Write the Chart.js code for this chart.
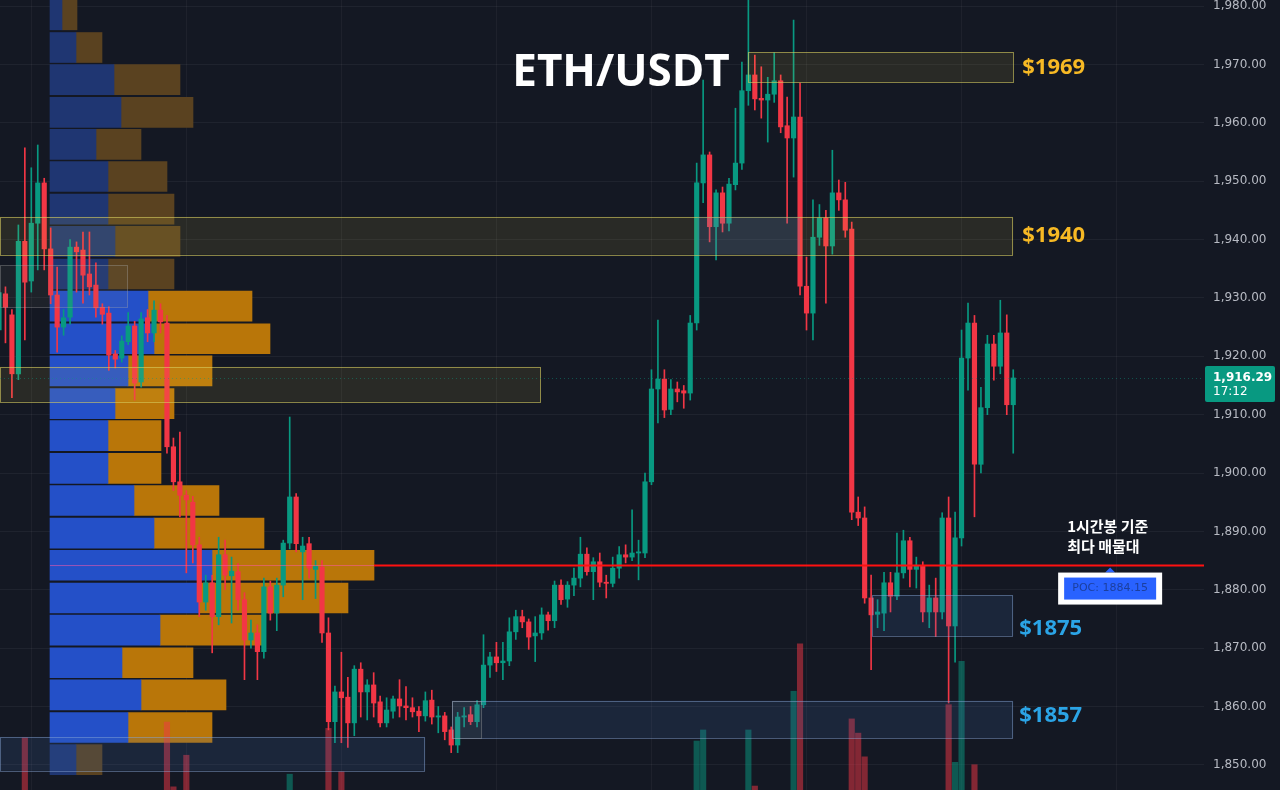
<!DOCTYPE html>
<html>
<head>
<meta charset="utf-8">
<title>ETH/USDT</title>
<script src="https://cdn.jsdelivr.net/npm/chart.js@4.4.0/dist/chart.umd.min.js"></script>
<style>
  html, body { margin: 0; padding: 0; background: #131722; }
  #wrap { width: 1280px; height: 790px; }
</style>
</head>
<body>
<div id="wrap"><canvas id="chart" width="1280" height="790"></canvas></div>
<script>
// 1h candles, index 0 = leftmost bar on screen
const opens = [
  1924.5, 1930.7, 1927.1, 1917.0, 1939.7, 1932.9, 1942.8, 1949.7, 1938.4, 1930.5,
  1925.0, 1926.7, 1938.7, 1938.2, 1934.1, 1932.2, 1928.4, 1927.4, 1920.4, 1919.7,
  1922.5, 1925.2, 1915.6, 1926.6, 1924.0, 1927.9, 1925.7, 1904.5, 1898.5, 1896.2,
  1895.0, 1887.7, 1877.9, 1881.2, 1875.4, 1886.0, 1882.4, 1883.1, 1878.3, 1871.4,
  1872.6, 1869.4, 1880.5, 1876.0, 1880.8, 1888.0, 1895.9, 1886.5, 1887.9, 1883.5,
  1883.9, 1872.6, 1857.4, 1862.5, 1861.6, 1857.2, 1866.4, 1862.5, 1863.7, 1860.8,
  1857.2, 1859.2, 1861.3, 1860.1, 1859.8, 1859.2, 1858.4, 1861.1, 1858.2, 1858.4,
  1856.0, 1853.4, 1858.2, 1858.6, 1857.4, 1860.3, 1867.1, 1868.5, 1867.5, 1867.8,
  1872.8, 1875.4, 1874.5, 1872.1, 1872.6, 1875.7, 1874.7, 1880.8, 1878.4, 1880.8,
  1882.0, 1886.1, 1883.1, 1884.8, 1881.3, 1881.1, 1883.7, 1886.0, 1885.6, 1886.3,
  1886.3, 1898.5, 1914.4, 1916.1, 1910.9, 1914.4, 1914.1, 1913.7, 1925.7, 1949.7,
  1954.5, 1942.2, 1948.0, 1942.8, 1949.4, 1953.1, 1965.5, 1968.2, 1964.2, 1963.9,
  1964.9, 1967.2, 1959.5, 1957.4, 1961.0, 1932.0, 1927.4, 1940.4, 1943.7, 1938.9,
  1948.0, 1946.8, 1941.8, 1893.3, 1892.3, 1878.6, 1875.8, 1876.0, 1881.2, 1878.9,
  1882.9, 1888.4, 1883.5, 1884.2, 1876.2, 1878.6, 1876.2, 1892.3, 1873.8, 1888.9,
  1919.7, 1925.7, 1901.5, 1911.2, 1922.1, 1918.3, 1924.0, 1911.7
];
const highs = [
  1931.5, 1931.9, 1928.0, 1942.5, 1955.7, 1952.3, 1956.2, 1950.5, 1942.0, 1935.3,
  1928.0, 1940.0, 1939.6, 1941.3, 1941.3, 1936.0, 1929.0, 1928.5, 1921.0, 1923.5,
  1927.5, 1926.0, 1927.5, 1928.0, 1929.5, 1929.0, 1927.0, 1906.0, 1907.0, 1897.0,
  1896.0, 1889.0, 1882.5, 1882.5, 1889.0, 1888.5, 1885.6, 1884.5, 1879.5, 1874.8,
  1874.0, 1882.0, 1881.5, 1882.0, 1888.5, 1909.6, 1896.5, 1889.0, 1889.0, 1885.0,
  1885.0, 1875.2, 1863.5, 1869.3, 1865.0, 1867.0, 1867.5, 1864.6, 1865.8, 1861.8,
  1861.5, 1861.8, 1864.6, 1863.4, 1861.5, 1860.0, 1862.5, 1862.8, 1860.0, 1859.0,
  1856.5, 1859.0, 1859.8, 1860.0, 1861.0, 1872.3, 1869.3, 1871.0, 1871.0, 1875.2,
  1876.5, 1876.5, 1875.0, 1875.4, 1876.9, 1876.2, 1881.5, 1881.7, 1881.4, 1883.7,
  1889.0, 1887.2, 1885.5, 1886.3, 1882.5, 1885.6, 1887.4, 1887.7, 1893.7, 1888.5,
  1900.0, 1917.7, 1926.2, 1917.7, 1916.0, 1915.6, 1915.0, 1927.0, 1953.1, 1967.3,
  1955.0, 1948.5, 1949.0, 1950.5, 1962.5, 1970.4, 1981.0, 1971.6, 1969.6, 1967.8,
  1972.0, 1968.2, 1964.4, 1977.6, 1966.8, 1937.0, 1946.8, 1946.0, 1945.0, 1955.3,
  1950.2, 1949.8, 1943.0, 1895.9, 1894.2, 1882.5, 1878.3, 1883.0, 1883.0, 1889.7,
  1890.2, 1889.0, 1885.6, 1884.8, 1880.8, 1882.0, 1893.2, 1895.9, 1893.3, 1924.5,
  1929.1, 1927.0, 1914.7, 1923.6, 1923.6, 1929.6, 1927.1, 1917.7
];
const lows = [
  1923.5, 1922.3, 1912.9, 1916.0, 1922.8, 1931.0, 1934.8, 1934.8, 1929.0, 1920.7,
  1923.6, 1925.5, 1931.0, 1929.1, 1930.5, 1926.7, 1925.5, 1917.6, 1918.0, 1919.0,
  1922.0, 1912.5, 1914.7, 1922.5, 1922.5, 1924.0, 1903.4, 1897.0, 1892.5, 1882.9,
  1884.6, 1875.4, 1876.5, 1869.2, 1874.0, 1880.0, 1874.3, 1876.5, 1864.6, 1870.0,
  1864.6, 1868.3, 1874.8, 1873.0, 1878.8, 1887.0, 1886.5, 1878.3, 1882.0, 1878.5,
  1871.0, 1856.0, 1853.8, 1853.8, 1853.0, 1855.0, 1858.2, 1857.7, 1858.2, 1856.5,
  1856.5, 1858.0, 1858.2, 1857.7, 1858.2, 1855.7, 1857.5, 1857.0, 1855.5, 1854.3,
  1852.1, 1852.1, 1856.5, 1856.9, 1856.5, 1859.8, 1865.0, 1866.0, 1864.6, 1867.0,
  1871.5, 1873.5, 1869.8, 1867.7, 1871.5, 1873.1, 1873.5, 1877.5, 1877.0, 1879.0,
  1880.5, 1882.5, 1878.3, 1880.5, 1878.6, 1880.5, 1882.0, 1884.6, 1885.0, 1881.7,
  1885.5, 1898.0, 1908.6, 1909.5, 1910.0, 1912.2, 1911.1, 1912.5, 1924.5, 1946.3,
  1939.6, 1936.5, 1941.3, 1941.5, 1948.5, 1952.0, 1963.0, 1962.2, 1960.8, 1956.7,
  1963.5, 1958.3, 1942.8, 1950.7, 1930.5, 1924.5, 1922.8, 1939.0, 1929.1, 1937.5,
  1945.0, 1940.4, 1892.0, 1891.0, 1877.7, 1866.3, 1873.5, 1873.0, 1876.2, 1878.3,
  1882.0, 1880.5, 1880.3, 1874.5, 1873.5, 1872.0, 1875.0, 1860.6, 1867.6, 1887.5,
  1914.2, 1892.5, 1900.0, 1910.0, 1915.9, 1917.0, 1910.0, 1903.4
];
const closes = [
  1930.9, 1928.4, 1917.0, 1939.7, 1932.7, 1942.8, 1949.7, 1938.4, 1930.5, 1925.0,
  1926.6, 1938.7, 1937.9, 1933.9, 1931.9, 1928.3, 1927.2, 1920.2, 1919.5, 1922.6,
  1925.2, 1915.4, 1926.4, 1924.0, 1927.9, 1925.9, 1904.5, 1898.5, 1896.2, 1895.4,
  1887.7, 1877.9, 1881.2, 1875.4, 1886.0, 1882.5, 1883.2, 1878.3, 1871.4, 1872.6,
  1869.4, 1880.5, 1876.0, 1880.8, 1888.0, 1895.9, 1887.9, 1887.5, 1883.7, 1884.0,
  1872.6, 1857.4, 1862.5, 1861.5, 1857.2, 1866.4, 1862.5, 1863.7, 1860.6, 1857.2,
  1859.4, 1861.3, 1860.1, 1859.8, 1859.1, 1858.4, 1861.0, 1858.2, 1858.4, 1855.7,
  1853.4, 1858.2, 1858.4, 1857.4, 1860.3, 1867.1, 1868.5, 1867.5, 1867.8, 1872.8,
  1875.4, 1874.5, 1871.9, 1872.6, 1875.7, 1874.7, 1880.8, 1878.3, 1880.8, 1882.0,
  1886.1, 1883.1, 1884.8, 1881.3, 1881.1, 1883.7, 1886.0, 1885.6, 1886.3, 1886.5,
  1898.5, 1914.4, 1916.1, 1910.8, 1914.4, 1913.9, 1913.7, 1925.7, 1949.7, 1954.5,
  1942.2, 1948.0, 1942.8, 1949.5, 1953.1, 1965.5, 1968.2, 1964.1, 1963.9, 1964.9,
  1967.2, 1959.3, 1957.4, 1961.0, 1932.0, 1927.4, 1940.4, 1943.7, 1938.9, 1948.0,
  1946.8, 1941.6, 1893.3, 1892.3, 1878.6, 1875.7, 1876.2, 1881.2, 1878.9, 1882.9,
  1888.4, 1883.5, 1884.2, 1876.2, 1878.6, 1876.2, 1892.3, 1873.8, 1888.9, 1919.7,
  1925.7, 1901.5, 1911.2, 1922.1, 1918.3, 1924.0, 1911.7, 1916.29
];

// volume bars that poke up into the visible price pane
const volIndex = [4, 26, 27, 29, 45, 51, 53, 108, 109, 116, 117, 123, 124, 132, 133, 134, 147, 148, 149, 151];
const volValue = [6.6, 8.6, 0.4, 4.4, 2.0, 7.8, 2.3, 6.2, 7.6, 7.6, 0.5, 12.5, 18.5, 9.0, 7.2, 4.2, 10.8, 3.5, 16.3, 3.2];

// volume profile rows (price level, buy vol, sell vol)
const profileLevels = [1978.5, 1972.9, 1967.4, 1961.8, 1956.3, 1950.8, 1945.2, 1939.7, 1934.1, 1928.6, 1923.0, 1917.5,
                       1911.9, 1906.4, 1900.8, 1895.3, 1889.7, 1884.2, 1878.6, 1873.1, 1867.5, 1862.0, 1856.4, 1850.9];
const profileUp   = [12, 26, 64, 71, 46, 58, 58, 65, 58, 98, 104, 78, 65, 58, 58, 84, 104, 162, 149, 110, 72, 91, 78, 26];
const profileDown = [15, 26, 66, 72, 45, 59, 66, 65, 66, 104, 116, 84, 59, 53, 53, 85, 110, 162, 149, 102, 71, 85, 84, 26];
const valueAreaFrom = 9, valueAreaTo = 22;
const pocPrice = 1884.15;

// zones drawn over the chart
const zoneTops    = [1943.9, 1943.9, 1918.2, 1935.6, 1972.1, 1879.1, 1861.0, 1861.0, 1854.8];
const zoneBottoms = [1937.4, 1937.4, 1912.2, 1928.4, 1967.0, 1872.1, 1854.6, 1854.6, 1849.0];
const zoneStarts  = [0.15, 108.1, 0.15, 0.15, 115.9, 135.1, 70.1, 70.1, 0.15];
const zoneEnds    = [157, 124, 83.9, 20, 157, 157, 157, 74.8, 66];
const zoneKinds   = ['gold', 'blueFill', 'gold', 'grey', 'gold', 'blue', 'blue', 'grey', 'blue'];

const levelTexts  = ['$1969', '$1940', '$1875', '$1857'];
const levelPrices = [1969.5, 1940.7, 1873.3, 1858.4];
const levelColors = ['#f7b924', '#f7b924', '#2ba4e6', '#2ba4e6'];

const gridIndex = [5, 29, 53, 77, 101, 125, 149, 173];

const UP = '#089981', DOWN = '#f23645';
const isUp = i => closes[i] >= opens[i];

const zoneStyles = {
    gold:     { fill: 'rgba(255, 235, 80, 0.09)', line: 'rgba(215, 205, 95, 0.6)' },
    blue:     { fill: 'rgba(70, 110, 180, 0.16)', line: 'rgba(140, 170, 220, 0.45)' },
    blueFill: { fill: 'rgba(60, 110, 200, 0.18)', line: null },
    grey:     { fill: 'rgba(150, 150, 130, 0.08)', line: 'rgba(170, 170, 170, 0.35)' }
};

const fmt = v => v.toLocaleString('en-US', { minimumFractionDigits: 2, maximumFractionDigits: 2 });

const overlay = {
    id: 'overlay',
    afterDatasetsDraw(chart) {
        const { ctx, chartArea, scales: { x, y, xp } } = chart;
        ctx.save();

        // zones
        zoneTops.forEach((top, i) => {
            const x0 = x.getPixelForValue(zoneStarts[i]);
            const x1 = x.getPixelForValue(zoneEnds[i]);
            const y0 = y.getPixelForValue(top);
            const y1 = y.getPixelForValue(zoneBottoms[i]);
            const st = zoneStyles[zoneKinds[i]];
            ctx.fillStyle = st.fill;
            ctx.fillRect(x0, y0, x1 - x0, y1 - y0);
            if (st.line) {
                ctx.strokeStyle = st.line;
                ctx.lineWidth = 1;
                ctx.strokeRect(Math.round(x0) + 0.5, Math.round(y0) + 0.5, Math.round(x1 - x0) - 1, Math.round(y1 - y0));
            }
        });

        // current price dotted line
        const last = closes.length - 1;
        const pyLast = y.getPixelForValue(closes[last]);
        ctx.setLineDash([1, 3]);
        ctx.strokeStyle = 'rgba(8, 153, 129, 0.45)';
        ctx.beginPath();
        ctx.moveTo(chartArea.left, Math.round(pyLast) + 0.5);
        ctx.lineTo(chartArea.right, Math.round(pyLast) + 0.5);
        ctx.stroke();
        ctx.setLineDash([]);

        // POC line
        const pocRow = profileLevels.indexOf(1884.2);
        const pyPoc = y.getPixelForValue(pocPrice);
        const pocEnd = xp.getPixelForValue(profileUp[pocRow] + profileDown[pocRow]);
        ctx.strokeStyle = 'rgba(255, 90, 170, 0.55)';
        ctx.lineWidth = 1;
        ctx.beginPath();
        ctx.moveTo(xp.getPixelForValue(0), pyPoc);
        ctx.lineTo(pocEnd, pyPoc);
        ctx.stroke();
        ctx.strokeStyle = '#ff1111';
        ctx.lineWidth = 2;
        ctx.beginPath();
        ctx.moveTo(pocEnd, pyPoc);
        ctx.lineTo(chartArea.right, pyPoc);
        ctx.stroke();

        // level labels
        ctx.font = 'bold 22px "Open Sans", "Noto Sans", sans-serif';
        ctx.textBaseline = 'middle';
        ctx.textAlign = 'left';
        levelTexts.forEach((t, i) => {
            ctx.fillStyle = levelColors[i];
            const dx = i < 2 ? 9 : 6;
            ctx.fillText(t, x.getPixelForValue(157) + dx, y.getPixelForValue(levelPrices[i]));
        });

        // title
        ctx.fillStyle = '#ffffff';
        ctx.font = 'bold 44px "Open Sans", "Noto Sans", sans-serif';
        ctx.textAlign = 'center';
        ctx.textBaseline = 'alphabetic';
        ctx.fillText('ETH/USDT', 621, 86);

        // POC callout
        const cx = x.getPixelForValue(172);
        ctx.font = 'bold 15px "Noto Sans CJK KR", sans-serif';
        ctx.textAlign = 'left';
        ctx.textBaseline = 'middle';
        ctx.fillStyle = '#ffffff';
        ctx.fillText('1시간봉 기준', cx - 43, pyPoc - 39);
        ctx.fillText('최다 매물대', cx - 43, pyPoc - 19);

        ctx.fillStyle = '#2962ff';
        ctx.beginPath();
        ctx.moveTo(cx - 5, pyPoc + 7);
        ctx.lineTo(cx, pyPoc + 2);
        ctx.lineTo(cx + 5, pyPoc + 7);
        ctx.fill();
        ctx.fillStyle = '#ffffff';
        ctx.fillRect(cx - 52, pyPoc + 7, 104, 32);
        ctx.fillStyle = '#2962ff';
        ctx.fillRect(cx - 46, pyPoc + 12, 92, 22);
        ctx.fillStyle = '#1c3f9e';
        ctx.font = '11px "DejaVu Sans", sans-serif';
        ctx.textAlign = 'center';
        ctx.fillText('POC: ' + pocPrice.toFixed(2), cx, pyPoc + 23);

        // last price tag on the axis
        ctx.fillStyle = UP;
        ctx.beginPath();
        ctx.roundRect(chartArea.right + 1, pyLast - 12, 70, 36, 2);
        ctx.fill();
        ctx.fillStyle = '#ffffff';
        ctx.textAlign = 'left';
        ctx.font = 'bold 12px "DejaVu Sans", sans-serif';
        ctx.fillText(fmt(closes[last]), chartArea.right + 9, pyLast);
        ctx.font = '12px "DejaVu Sans", sans-serif';
        ctx.fillText('17:12', chartArea.right + 9, pyLast + 14);

        ctx.restore();
    }
};

const candleIdx = opens.map((_, i) => i);

new Chart(document.getElementById('chart'), {
    type: 'bar',
    data: {
        datasets: [
            {
                label: 'body',
                data: candleIdx.map(i => ({ x: i, y: [opens[i], closes[i]] })),
                backgroundColor: ctx => isUp(ctx.dataIndex) ? UP : DOWN,
                barThickness: 4.5,
                minBarLength: 1,
                grouped: false,
                order: 0
            },
            {
                label: 'wick',
                data: candleIdx.map(i => ({ x: i, y: [lows[i], highs[i]] })),
                backgroundColor: ctx => isUp(ctx.dataIndex) ? UP : DOWN,
                barThickness: 1,
                grouped: false,
                order: 1
            },
            {
                label: 'volume',
                yAxisID: 'yv',
                data: volIndex.map((ix, k) => ({ x: ix, y: volValue[k] })),
                backgroundColor: ctx => isUp(volIndex[ctx.dataIndex]) ? 'rgba(8, 153, 129, 0.5)' : 'rgba(242, 54, 69, 0.5)',
                barThickness: 5.5,
                grouped: false,
                order: 3
            },
            {
                label: 'buy volume',
                indexAxis: 'y',
                xAxisID: 'xp',
                yAxisID: 'y',
                data: profileLevels.map((p, i) => ({ y: p, x: [0, profileUp[i]] })),
                backgroundColor: ctx => (ctx.dataIndex >= valueAreaFrom && ctx.dataIndex <= valueAreaTo) ? '#2450c8' : '#1f3672',
                barThickness: 30,
                grouped: false,
                order: 5
            },
            {
                label: 'sell volume',
                indexAxis: 'y',
                xAxisID: 'xp',
                yAxisID: 'y',
                data: profileLevels.map((p, i) => ({ y: p, x: [profileUp[i], profileUp[i] + profileDown[i]] })),
                backgroundColor: ctx => (ctx.dataIndex >= valueAreaFrom && ctx.dataIndex <= valueAreaTo) ? '#b97609' : '#5a4220',
                barThickness: 30,
                grouped: false,
                order: 5
            }
        ]
    },
    options: {
        responsive: false,
        animation: false,
        layout: { padding: 0 },
        plugins: { legend: { display: false }, tooltip: { enabled: false } },
        scales: {
            x: {
                type: 'linear',
                min: 0.155,
                max: 186.53,
                offset: false,
                grid: { color: 'rgba(255, 255, 255, 0.045)', offset: false, drawTicks: false },
                border: { display: false },
                ticks: { display: false },
                afterBuildTicks: s => { s.ticks = gridIndex.map(v => ({ value: v })); },
                afterFit: s => { s.height = 0; s.paddingLeft = 0; s.paddingRight = 0; }
            },
            y: {
                type: 'linear',
                position: 'right',
                min: 1845.7,
                max: 1981.04,
                beginAtZero: false,
                offset: false,
                grid: { color: 'rgba(255, 255, 255, 0.05)', offset: false, drawTicks: false },
                border: { display: false },
                ticks: {
                    stepSize: 10,
                    includeBounds: false,
                    padding: 9,
                    color: '#b7bac3',
                    font: { family: '"DejaVu Sans", sans-serif', size: 12 },
                    callback: v => fmt(v)
                },
                afterFit: s => { s.width = 76; s.paddingTop = 0; s.paddingBottom = 0; }
            },
            yv: { type: 'linear', display: false, min: 0, max: 100, offset: false },
            xp: { type: 'linear', display: false, min: -50, max: 1154, offset: false }
        }
    },
    plugins: [
        {
            id: 'bg',
            beforeDraw(chart) {
                const c = chart.ctx;
                c.save();
                c.fillStyle = '#141823';
                c.fillRect(0, 0, chart.width, chart.height);
                c.restore();
            }
        },
        overlay
    ]
});
</script>
</body>
</html>
